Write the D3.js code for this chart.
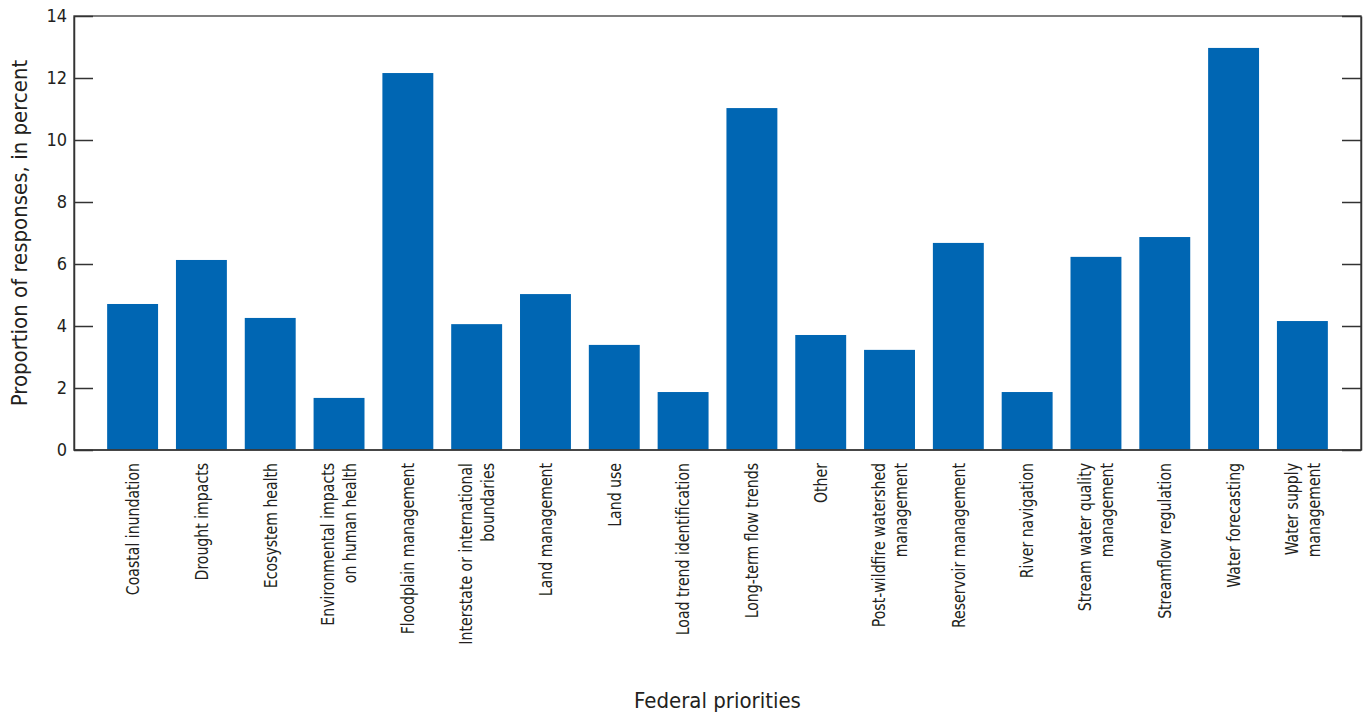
<!DOCTYPE html>
<html><head><meta charset="utf-8">
<script src="https://cdn.jsdelivr.net/npm/d3@7"></script>
<style>
body{margin:0;background:#fff;}
text{font-family:"Liberation Sans Narrow","Arial Narrow","DejaVu Sans Condensed",sans-serif;fill:#231f20;}
</style></head>
<body><svg id="c" width="1365" height="717"></svg>
<script>
const categories = ["Coastal inundation","Drought impacts","Ecosystem health","Environmental impacts\non human health","Floodplain management","Interstate or international\nboundaries","Land management","Land use","Load trend identification","Long-term flow trends","Other","Post-wildfire watershed\nmanagement","Reservoir management","River navigation","Stream water quality\nmanagement","Streamflow regulation","Water forecasting","Water supply\nmanagement"];
const values = [4.71,6.13,4.26,1.68,12.16,4.06,5.03,3.39,1.87,11.03,3.71,3.23,6.68,1.87,6.23,6.87,12.97,4.16];
const yTicks = [0,2,4,6,8,10,12,14];
const yTitle = "Proportion of responses, in percent";
const xTitle = "Federal priorities";

const svg = d3.select("#c");
const L=74,R=1361,T=16,B=450;
const x = d3.scaleBand().domain(categories).range([L+24.2,R-24.2]).paddingInner(0.26).paddingOuter(0.13);
const y = d3.scaleLinear().domain([0,14]).range([B,T]);

svg.append("g").selectAll("rect").data(values).join("rect")
  .attr("x",(d,i)=>x(categories[i])).attr("width",x.bandwidth())
  .attr("y",d=>y(d)).attr("height",d=>B-y(d)).attr("fill","#0066b3");

// frame
svg.append("rect").attr("x",L).attr("y",T).attr("width",R-L).attr("height",B-T)
  .attr("fill","none").attr("stroke","#555").attr("stroke-width",1.5);

const axL = d3.axisLeft(y).tickValues(yTicks).tickSizeInner(-19).tickSizeOuter(0).tickPadding(7);
const gl = svg.append("g").attr("transform",`translate(${L},0)`).call(axL);
gl.select(".domain").attr("stroke","#333").attr("stroke-width",1.5);
gl.selectAll(".tick line").attr("stroke","#333").attr("stroke-width",1.5);
gl.selectAll(".tick text").attr("font-size",18).attr("x",-7).attr("fill","#231f20").style("font-family",'"Liberation Sans Narrow","Arial Narrow","DejaVu Sans Condensed",sans-serif');

const axR = d3.axisRight(y).tickValues(yTicks).tickSizeInner(-19).tickSizeOuter(0).tickFormat("");
const gr = svg.append("g").attr("transform",`translate(${R},0)`).call(axR);
gr.select(".domain").attr("stroke","#333").attr("stroke-width",1.5);
gr.selectAll(".tick line").attr("stroke","#333").attr("stroke-width",1.5);

// bottom axis line
svg.append("line").attr("x1",L).attr("x2",R).attr("y1",B).attr("y2",B).attr("stroke","#333").attr("stroke-width",1.5);

// category labels
const lg = svg.append("g");
categories.forEach(c=>{
  const lines = c.split("\n");
  const cx = x(c)+x.bandwidth()/2;
  const t = lg.append("text").attr("transform",`translate(${cx},463) rotate(-90) scale(0.87,1)`)
    .attr("text-anchor","end").attr("font-size",18);
  lines.forEach((ln,i)=>{
    t.append("tspan").attr("x",0).attr("y",(i-(lines.length-1)/2)*22).attr("dy","0.35em").text(ln);
  });
});

svg.append("text").attr("transform",`translate(27,${(T+B)/2}) rotate(-90)`)
  .attr("text-anchor","middle").attr("font-size",22).text(yTitle);
svg.append("text").attr("x",(L+R)/2).attr("y",708).attr("text-anchor","middle").attr("font-size",22).text(xTitle);
</script></body></html>
